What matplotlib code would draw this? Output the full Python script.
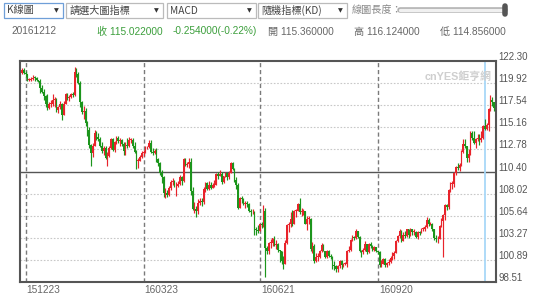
import numpy as np
import pandas as pd
import matplotlib
matplotlib.use('Agg')
import matplotlib.pyplot as plt
from matplotlib.patches import Rectangle
from matplotlib.lines import Line2D
from matplotlib import transforms

plt.rcParams['font.family'] = ['Liberation Sans', 'Noto Sans CJK TC', 'DejaVu Sans']

# ==========================================
# Datos: USD/JPY diario 2015-12-21 .. 2016-12-19
# ==========================================
first_open = 121.05

close_ = [
    # dic 2015
    121.35, 121.05, 120.85, 120.30, 120.30, 120.40, 120.50, 120.45, 120.25,
    # ene 2016
    120.20, 119.40, 119.00, 118.50, 117.70, 117.25, 117.70, 117.70, 118.10, 118.20, 117.00,
    117.30, 117.70, 116.50, 117.70, 118.75, 118.30, 118.40, 118.70, 118.60, 121.10,
    # feb
    120.95, 119.95, 117.90, 116.80, 116.90, 115.60, 114.90, 113.30, 112.40, 113.10, 114.60,
    114.10, 113.90, 113.20, 112.60, 112.90, 111.90, 112.10, 112.90, 113.90, 112.70,
    # mar
    113.60, 114.00, 113.70, 113.80, 113.40, 112.60, 113.30, 113.20, 113.80, 113.80, 113.20,
    112.50, 111.55, 111.55, 112.00, 112.40, 112.40, 113.00, 113.00, 113.50, 112.50, 112.40, 112.60,
    # abr
    111.70, 111.30, 110.20, 109.80, 108.10, 108.10, 107.90, 108.60, 109.30, 109.40, 108.80,
    108.80, 109.10, 109.80, 109.40, 111.80, 111.10, 111.20, 111.40, 108.30, 106.40,
    # may
    106.40, 106.10, 107.00, 107.20, 107.10, 108.50, 109.20, 108.50, 109.00, 108.60, 109.00,
    109.00, 110.10, 109.90, 110.10, 109.30, 109.90, 110.20, 109.80, 110.20, 111.30, 110.70,
    # jun
    109.50, 108.90, 106.50, 107.60, 107.40, 106.90, 107.00, 106.90, 106.10, 106.00, 106.00,
    104.20, 104.10, 104.00, 104.70, 104.60, 106.20, 102.20, 101.90, 102.70, 102.70, 103.20,
    # jul
    102.50, 102.60, 102.00, 101.80, 100.80, 100.50, 102.70, 104.60, 104.70, 105.30, 104.80,
    106.20, 106.20, 106.90, 106.00, 106.10, 106.10, 104.80, 105.30, 105.30, 102.10,
    # ago
    102.40, 100.80, 101.20, 101.20, 101.80, 102.50, 101.90, 101.20, 101.90, 101.30, 101.20,
    100.30, 100.20, 99.90, 100.20, 100.80, 100.30, 100.50, 100.50, 101.80, 102.00, 103.00, 103.40,
    # sep
    103.30, 104.00, 103.40, 101.80, 101.70, 102.00, 102.60, 101.70, 102.60, 102.40, 102.00,
    102.30, 101.80, 101.70, 100.30, 100.50, 101.00, 100.30, 100.60, 100.70, 101.10, 101.30,
    # oct
    101.60, 102.90, 103.50, 104.00, 102.90, 103.60, 103.50, 104.20, 103.60, 104.20, 103.90,
    103.90, 103.40, 103.90, 103.80, 104.20, 104.20, 104.40, 105.20, 104.70, 104.80,
    # nov
    104.20, 103.30, 103.10, 103.10, 104.50, 105.10, 105.70, 106.80, 106.60, 108.40, 109.10,
    109.10, 110.20, 110.90, 110.80, 111.10, 112.50, 113.40, 113.20, 111.90, 112.30, 114.50,
    # dic
    114.00, 113.50, 113.90, 114.00, 113.80, 114.00, 115.30, 115.00, 115.40, 117.10, 118.10,
    117.90, 117.20,
]

high_ = [
    121.50, 121.50, 121.20, 120.95, 120.45, 120.60, 120.75, 120.65, 120.60,
    120.30, 120.40, 119.70, 119.30, 118.60, 118.80, 117.85, 118.10, 118.80, 118.40, 118.30,
    117.50, 118.00, 117.80, 118.00, 118.85, 118.90, 118.60, 118.90, 119.00, 121.65,
    121.50, 121.10, 120.10, 118.00, 117.50, 117.20, 115.80, 115.20, 113.40, 113.50, 114.85,
    114.80, 114.60, 114.10, 113.60, 113.20, 113.20, 112.50, 113.10, 114.00, 114.05,
    113.70, 114.20, 114.20, 114.00, 113.90, 113.60, 113.60, 114.00, 114.15, 114.00, 114.00,
    113.55, 112.70, 111.90, 112.15, 112.60, 112.70, 113.20, 113.10, 113.80, 113.80, 112.95, 112.80,
    112.90, 111.90, 111.40, 110.60, 109.90, 108.60, 108.40, 108.80, 109.50, 109.70, 109.50,
    109.30, 109.40, 110.00, 109.90, 111.90, 111.90, 111.40, 111.85, 111.85, 108.70,
    107.10, 106.70, 107.40, 107.50, 107.60, 108.70, 109.30, 109.25, 109.40, 109.30, 109.20,
    109.50, 110.25, 110.30, 110.60, 110.30, 109.95, 110.40, 110.20, 110.50, 111.45, 111.40,
    110.80, 109.80, 109.20, 107.70, 107.80, 107.50, 107.20, 107.20, 107.00, 106.40, 106.40,
    106.10, 104.40, 104.60, 104.80, 105.00, 106.80, 106.50, 102.40, 102.80, 103.10, 103.30,
    103.50, 103.00, 102.70, 102.00, 101.90, 101.30, 103.00, 104.80, 105.00, 106.00, 106.30,
    106.30, 106.40, 107.00, 107.50, 106.50, 106.40, 106.20, 105.60, 105.60, 105.35,
    102.80, 102.60, 101.60, 101.60, 102.00, 102.70, 102.60, 101.90, 102.00, 102.00, 101.50,
    101.30, 100.80, 100.30, 100.30, 100.90, 100.90, 100.60, 100.70, 102.00, 102.40, 103.10, 103.60,
    103.50, 104.20, 104.00, 103.50, 102.00, 102.20, 102.90, 102.60, 102.70, 102.80, 102.50,
    102.40, 102.30, 101.90, 101.90, 100.90, 101.10, 101.10, 100.70, 101.00, 101.30, 101.70,
    101.80, 103.00, 103.60, 104.20, 104.10, 103.90, 104.00, 104.20, 104.20, 104.30, 104.20,
    104.20, 103.95, 104.00, 104.00, 104.30, 104.40, 104.60, 105.50, 105.40, 105.00,
    104.90, 104.20, 103.60, 103.50, 104.60, 105.40, 105.80, 106.90, 106.90, 108.50, 109.30,
    109.40, 110.30, 111.00, 111.35, 111.30, 112.70, 113.90, 113.90, 113.20, 112.80, 114.80,
    114.80, 114.80, 114.00, 114.40, 114.40, 114.80, 115.40, 116.10, 115.60, 117.20, 118.66,
    118.40, 117.90,
]

low_ = [
    120.90, 120.90, 120.60, 120.20, 120.15, 120.10, 120.30, 120.20, 120.10,
    120.05, 118.90, 118.90, 118.10, 117.30, 117.00, 117.10, 117.30, 117.50, 117.35, 116.80,
    116.70, 117.10, 116.00, 116.50, 117.70, 118.10, 118.00, 118.30, 118.40, 118.50,
    120.60, 119.80, 117.30, 116.55, 116.10, 115.30, 114.20, 112.90, 110.98, 112.00, 113.40,
    113.80, 113.70, 113.00, 112.40, 112.20, 111.80, 111.05, 112.00, 112.80, 112.60,
    112.55, 113.40, 113.50, 113.20, 113.10, 112.20, 112.20, 112.90, 113.05, 113.50, 112.90,
    112.40, 110.67, 110.80, 111.50, 111.90, 112.10, 112.50, 112.80, 112.95, 112.40, 112.20, 112.30,
    111.40, 111.00, 110.00, 109.20, 107.65, 107.60, 107.65, 107.80, 108.40, 109.00, 108.70,
    107.80, 108.70, 109.00, 109.00, 109.30, 111.00, 110.90, 110.80, 107.90, 106.30,
    105.95, 105.55, 105.85, 106.80, 106.70, 106.90, 108.20, 108.40, 108.40, 108.50, 108.70,
    108.70, 109.00, 109.60, 109.90, 109.10, 109.20, 109.80, 109.50, 109.60, 110.20, 110.60,
    109.30, 108.50, 106.40, 106.50, 107.00, 106.80, 106.50, 106.60, 106.00, 105.60, 105.80,
    103.60, 103.60, 103.80, 104.00, 104.30, 104.40, 99.00, 101.50, 101.50, 102.20, 102.40,
    102.40, 102.10, 101.70, 100.70, 100.50, 99.90, 100.70, 102.60, 103.90, 104.40, 104.50,
    104.80, 105.50, 106.10, 105.80, 105.60, 105.70, 104.70, 104.10, 104.70, 101.90,
    101.60, 100.60, 100.70, 100.80, 101.10, 101.70, 101.80, 101.10, 101.10, 101.20, 101.00,
    99.90, 99.80, 99.55, 99.60, 100.00, 99.95, 100.10, 100.30, 100.10, 101.70, 101.80, 102.90,
    103.00, 103.10, 103.20, 101.70, 101.20, 101.50, 101.80, 101.50, 101.60, 102.20, 101.80,
    101.90, 101.70, 101.50, 100.10, 100.10, 100.50, 100.10, 100.10, 100.30, 100.60, 100.90,
    101.00, 101.60, 102.80, 103.20, 102.80, 103.20, 103.20, 103.40, 103.20, 103.50, 103.60,
    103.60, 103.20, 103.10, 103.60, 103.80, 104.00, 104.00, 104.30, 104.50, 104.60,
    104.00, 103.00, 102.80, 102.70, 103.30, 104.40, 101.20, 105.20, 106.30, 106.40, 108.20,
    108.50, 108.70, 110.00, 110.60, 110.50, 111.00, 112.40, 112.90, 111.40, 111.40, 112.20,
    113.80, 113.40, 112.90, 113.70, 113.30, 113.60, 113.90, 114.85, 114.90, 114.80, 116.90,
    117.50, 116.90,
]

y_ticks = [98.51, 100.89, 103.27, 105.64, 108.02, 110.40, 112.78, 115.16, 117.54, 119.92, 122.30]
fechas_marca = ['2015-12-23', '2016-03-23', '2016-06-21', '2016-09-20']
etiquetas_marca = ['151223', '160323', '160621', '160920']
fecha_cursor = '2016-12-12'

dates = pd.bdate_range('2015-12-21', '2016-12-19')
n = len(dates)
assert len(close_) == n and len(high_) == n and len(low_) == n, (n, len(close_), len(high_), len(low_))

closes = np.array(close_)
opens = np.array([first_open] + close_[:-1])
highs = np.maximum(np.array(high_), np.maximum(opens, closes))
lows = np.minimum(np.array(low_), np.minimum(opens, closes))
x = np.arange(n)
up = closes >= opens

ROJO = '#e8232b'
VERDE = '#1c951c'
colores = np.where(up, ROJO, VERDE)

W, H = 553, 302
fig = plt.figure(figsize=(W / 100, H / 100), dpi=100)
ax = fig.add_axes([20 / W, 1 - 282 / H, 476 / W, 221 / H])

# rejilla
for v in y_ticks[1:-1]:
    if abs(v - 110.40) < 1e-6:
        ax.axhline(v, color='#555555', lw=1.0, zorder=1)
    else:
        ax.axhline(v, color='#c8c8c8', lw=0.8, ls=(0, (1.5, 1.5)), zorder=1)

pos_marca = [dates.get_loc(pd.Timestamp(d)) for d in fechas_marca]
for p in pos_marca:
    ax.axvline(p, color='#7a7a7a', lw=1.0, ls=(0, (3, 2)), zorder=1)

ax.axvline(dates.get_loc(pd.Timestamp(fecha_cursor)), color='#a8d8f8', lw=1.3, zorder=1)

# velas
ax.vlines(x, lows, highs, colors=colores, lw=0.85, zorder=3)
alto = np.maximum(np.abs(closes - opens), 0.08)
ax.bar(x, alto, bottom=np.minimum(opens, closes), width=0.9, color=colores, lw=0, zorder=3)

ax.set_xlim(-1.1, n + 0.1)
ax.set_ylim(y_ticks[0], y_ticks[-1])
ax.set_xticks([])
ax.set_yticks([])
for s in ax.spines.values():
    s.set_color('#555555')
    s.set_linewidth(1.5)

# etiquetas eje y (a la derecha, un poco por encima de la línea)
tr_y = transforms.offset_copy(ax.get_yaxis_transform(), fig=fig, x=2, y=4, units='dots')
for v in y_ticks:
    ax.text(1.0, v, f'{v:.2f}', transform=tr_y, ha='left', va='center',
            fontsize=7, color='#555555', clip_on=False)

# etiquetas de fecha
tr_x = transforms.offset_copy(ax.get_xaxis_transform(), fig=fig, x=1, y=-8, units='dots')
for p, t in zip(pos_marca, etiquetas_marca):
    ax.text(p, 0, t, transform=tr_x, ha='left', va='center', fontsize=7.3,
            color='#666666', clip_on=False)

# marca de agua
ax.text(0.99, 0.955, 'cnYES鉅亨網', transform=ax.transAxes, ha='right', va='top',
        fontsize=7.8, fontweight='bold', color='#cfcfcf',
        family=['Liberation Sans', 'Noto Sans CJK TC'], zorder=2)

# ==========================================
# Cabecera (controles)
# ==========================================
def px_text(xp, yp, s, **kw):
    fig.text(xp / W, 1 - yp / H, s, va='center', **kw)

def caja(x0, x1, y0, y1, ec):
    fig.add_artist(Rectangle((x0 / W, 1 - y1 / H), (x1 - x0) / W, (y1 - y0) / H,
                             transform=fig.transFigure, fill=False, ec=ec, lw=0.9))

cajas = [(4, 63, 'K線圖', '#6f9fd8'), (66, 163, '請選大圖指標', '#bbbbbb'),
         (167, 256, 'MACD', '#bbbbbb'), (258, 347, '隨機指標(KD)', '#bbbbbb')]
for x0, x1, t, ec in cajas:
    caja(x0, x1, 3, 18, ec)
    px_text(x0 + 3, 10.5, t, fontsize=7.3, color='#444444',
            family=['Noto Sans CJK TC', 'DejaVu Sans'])
    px_text(x1 - 9, 10.5, '▼', fontsize=4.5, color='#333333', family='DejaVu Sans')

px_text(352, 10.5, '線圖長度：', fontsize=7.3, color='#888888', family=['Noto Sans CJK TC'])
fig.add_artist(Line2D([400 / W, 505 / W], [1 - 9.5 / H] * 2, transform=fig.transFigure,
                      color='#b0b0b0', lw=4, solid_capstyle='round'))
fig.add_artist(Line2D([400 / W, 505 / W], [1 - 9.5 / H] * 2, transform=fig.transFigure,
                      color='#f0f0f0', lw=2.4, solid_capstyle='round'))
fig.add_artist(Line2D([505 / W, 505 / W], [1 - 5.5 / H, 1 - 13.5 / H], transform=fig.transFigure,
                      color='#555555', lw=4, solid_capstyle='round'))

VERDE_TXT = '#3c9f3c'
GRIS_TXT = '#666666'
fila2 = [(11, '20161212', GRIS_TXT), (97, '收 115.022000', VERDE_TXT),
         (173, '-0.254000(-0.22%)', VERDE_TXT), (268, '開 115.360000', GRIS_TXT),
         (354, '高 116.124000', GRIS_TXT), (440, '低 114.856000', GRIS_TXT)]
for xp, t, c in fila2:
    px_text(xp, 31.5, t, fontsize=7.3, color=c)

fig.savefig('out.png', dpi=100)
